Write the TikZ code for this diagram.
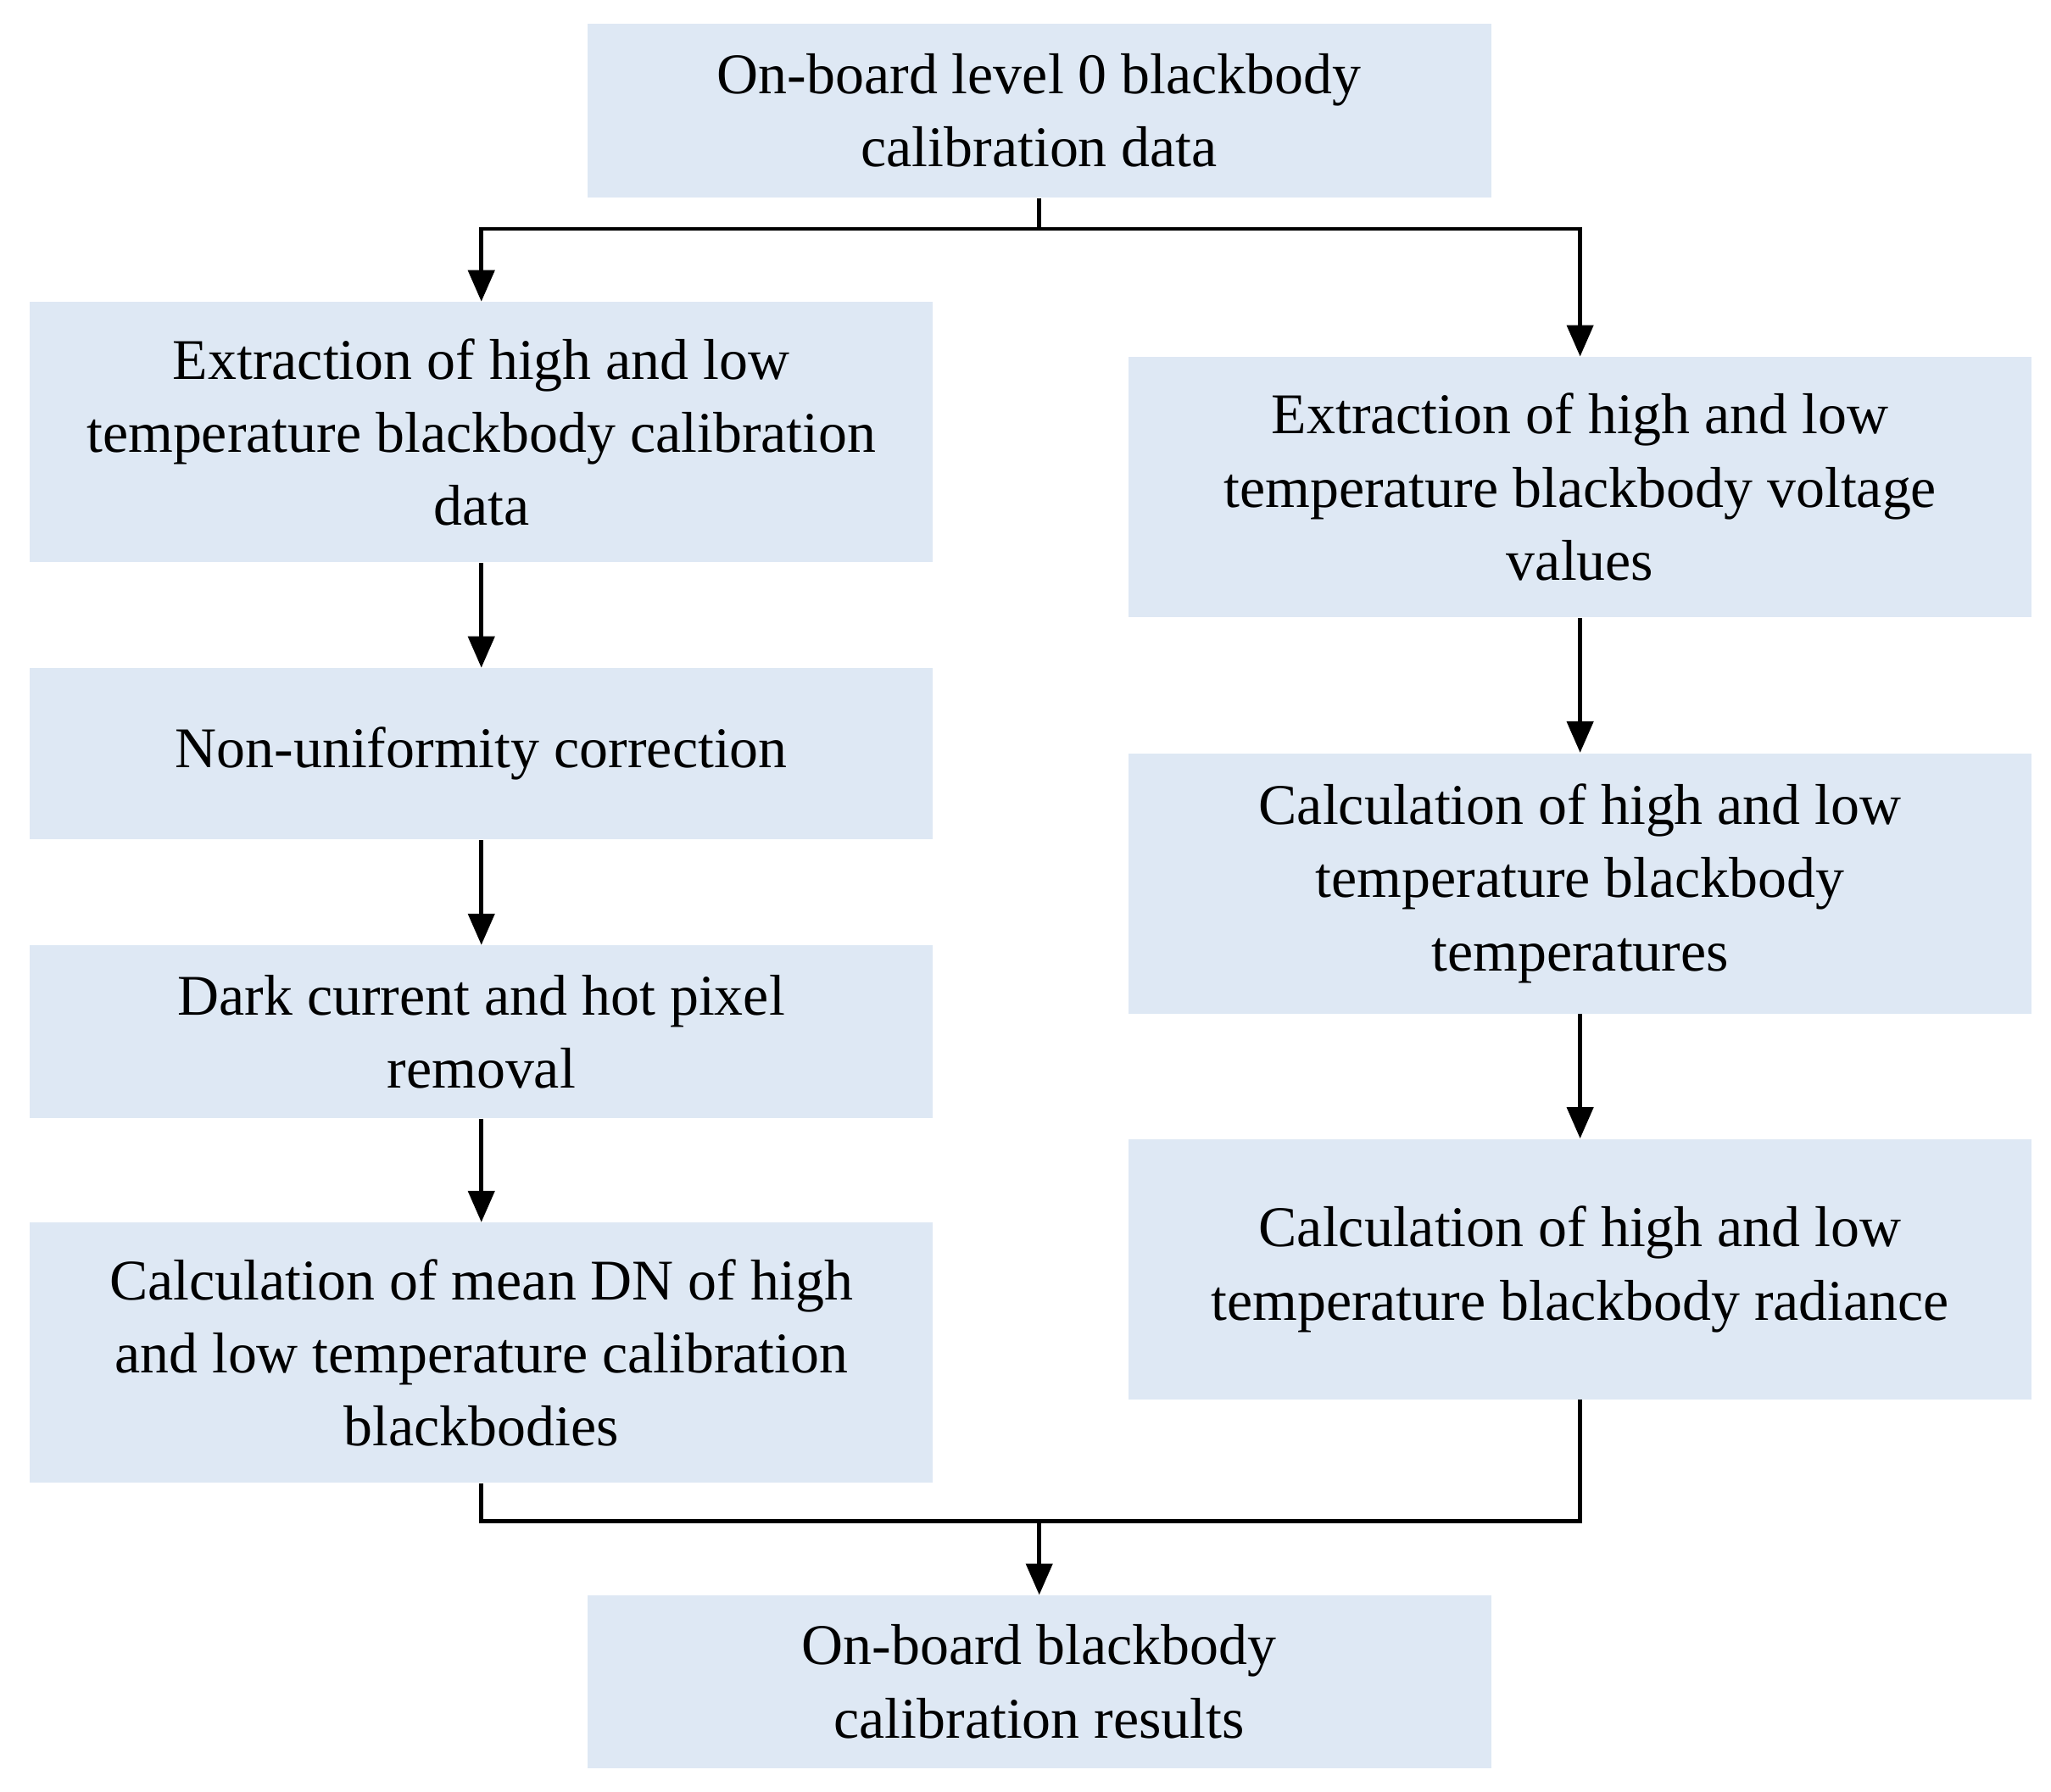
\documentclass[tikz,border=0pt]{standalone}
\usepackage{fontspec}
\setmainfont{Liberation Serif}
\usetikzlibrary{arrows.meta}
\begin{document}
\begin{tikzpicture}[x=0.5pt,y=-0.5pt,
 box/.style={draw=none,fill={rgb,255:red,222;green,232;blue,244},inner sep=0pt,align=center,
   font=\fontsize{22}{28}\selectfont},
 arr/.style={line width=1.6pt,-{Triangle[length=12pt,width=10pt]}},
 ln/.style={line width=1.6pt}]
\useasboundingbox (0,0) rectangle (1568,1370);
\newcommand{\bx}[6]{\node[box,minimum width={(#4-#2)*0.5pt},minimum height={(#5-#3)*0.5pt}] (#1) at ({(#2+#4)/2},{(#3+#5)/2}) {#6};}
\bx{top}{449}{18}{1140}{151}{On-board level 0 blackbody\\calibration data}
\bx{l1}{23}{231}{713}{430}{Extraction of high and low\\temperature blackbody calibration\\data}
\bx{l2}{23}{511}{713}{642}{Non-uniformity correction}
\bx{l3}{23}{723}{713}{855}{Dark current and hot pixel\\removal}
\bx{l4}{23}{935}{713}{1134}{Calculation of mean DN of high\\and low temperature calibration\\blackbodies}
\bx{r1}{863}{273}{1553}{472}{Extraction of high and low\\temperature blackbody voltage\\values}
\bx{r2}{863}{576}{1553}{775}{Calculation of high and low\\temperature blackbody\\temperatures}
\bx{r3}{863}{871}{1553}{1070}{Calculation of high and low\\temperature blackbody radiance}
\bx{bot}{449}{1220}{1140}{1352}{On-board blackbody\\calibration results}
\coordinate (s) at (794.5,175);
\coordinate (m) at (794.5,1163);
\draw[ln] (top.south) -- (s);
\draw[arr] (s) -| (l1.north);
\draw[arr] (s) -| (r1.north);
\draw[arr] (l1) -- (l2);
\draw[arr] (l2) -- (l3);
\draw[arr] (l3) -- (l4);
\draw[arr] (r1) -- (r2);
\draw[arr] (r2) -- (r3);
\draw[ln] (l4.south) |- (m);
\draw[ln] (r3.south) |- (m);
\draw[arr] (m) -- (bot.north);
\end{tikzpicture}
\end{document}
